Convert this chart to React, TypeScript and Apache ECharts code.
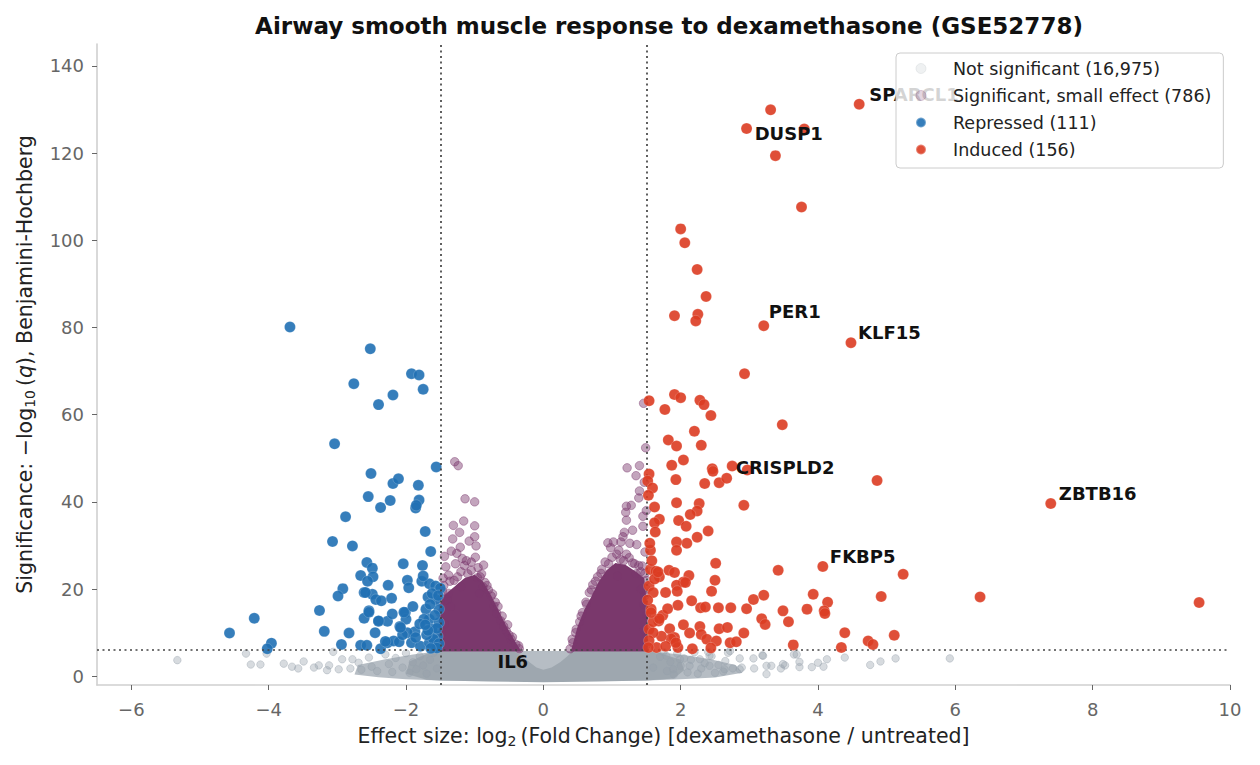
import React, { useEffect, useRef } from "react";
import * as echarts from "echarts";

const FONT = "DejaVu Sans";

const TITLE = "Airway smooth muscle response to dexamethasone (GSE52778)";
const NAME_NS = "Not significant (16,975)";
const NAME_SM = "Significant, small effect (786)";
const NAME_REP = "Repressed (111)";
const NAME_IND = "Induced (156)";

const xTicks = [-6, -4, -2, 0, 2, 4, 6, 8, 10];
const yTicks = [0, 20, 40, 60, 80, 100, 120, 140];
const FC_CUT = 1.5;
const SIG_CUT = 6;

// Repressed genes: [log2FC, -log10 q]
const repressed: [number, number][] = [
  [-3.69, 80.1], [-2.52, 75.1], [-1.92, 69.4], [-1.81, 69.1], [-2.76, 67.1], [-1.75, 65.8],
  [-2.19, 64.5], [-2.40, 62.3], [-3.04, 53.3], [-1.56, 48.0], [-2.51, 46.5], [-2.19, 44.2],
  [-2.11, 45.3], [-1.82, 43.8], [-2.55, 41.2], [-2.23, 40.3], [-1.81, 40.4], [-1.86, 38.6],
  [-1.85, 39.2], [-2.37, 38.7], [-2.88, 36.6], [-1.72, 33.2], [-3.07, 30.9], [-2.78, 29.9],
  [-1.64, 28.6], [-2.57, 26.1], [-2.49, 24.8], [-2.04, 25.8], [-1.76, 25.4], [-2.66, 23.1],
  [-2.48, 22.8], [-2.56, 21.8], [-2.26, 20.9], [-1.98, 22.0], [-1.96, 20.3], [-1.77, 21.8],
  [-1.66, 21.2], [-1.57, 20.7], [-1.50, 20.2], [-2.92, 20.1], [-2.99, 18.4], [-2.61, 19.2],
  [-2.49, 18.8], [-2.44, 17.6], [-2.36, 17.3], [-2.21, 17.9], [-1.68, 18.2], [-3.26, 15.1],
  [-2.54, 15.0], [-2.61, 13.3], [-2.40, 12.6], [-2.27, 12.6], [-2.20, 14.3], [-2.01, 14.6],
  [-2.00, 13.1], [-2.09, 11.4], [-1.87, 10.2], [-1.71, 15.4], [-1.66, 13.1], [-1.52, 15.4],
  [-4.21, 13.3], [-4.57, 9.9], [-3.19, 10.3], [-2.83, 9.9], [-3.96, 7.6], [-4.02, 6.3],
  [-2.94, 7.3], [-2.66, 7.1], [-2.57, 7.1], [-2.37, 6.3], [-2.27, 7.7], [-2.18, 8.1],
  [-2.10, 7.9], [-1.92, 7.7], [-1.79, 6.9], [-1.66, 7.7], [-1.57, 6.9], [-1.54, 9.2],
  [-1.62, 10.8], [-1.52, 12.3], [-1.57, 17.6], [-1.74, 13.1], [-1.98, 10.0], [-1.86, 8.9],
  [-1.60, 8.5], [-1.55, 11.0], [-1.65, 16.5], [-1.58, 14.0], [-1.70, 9.5], [-1.62, 19.0],
  [-1.53, 18.5], [-1.80, 12.0], [-2.30, 8.0], [-2.45, 10.0], [-2.05, 9.5], [-1.90, 16.0],
  [-1.75, 23.0], [-1.68, 10.5], [-2.59, 19.2], [-2.54, 14.7], [-2.40, 12.7], [-2.08, 11.2],
  [-2.03, 14.7], [-1.52, 7.5], [-1.55, 6.5], [-1.64, 6.4], [-1.72, 11.8],
];

// Induced genes
const induced: [number, number][] = [
  [4.60, 131.2], [3.31, 129.9], [3.80, 125.5], [2.96, 125.6], [3.38, 119.4], [3.76, 107.6],
  [2.00, 102.6], [2.06, 99.4], [2.24, 93.3], [2.37, 87.1], [1.91, 82.7], [2.25, 83.0],
  [2.22, 81.5], [3.21, 80.4], [4.48, 76.5], [2.93, 69.4], [1.54, 63.2], [1.91, 64.6],
  [2.00, 63.9], [2.28, 63.3], [2.34, 62.3], [1.77, 61.2], [2.44, 59.8], [3.48, 57.7],
  [2.20, 56.2], [1.82, 54.2], [1.94, 52.8], [2.30, 53.0], [2.04, 49.6], [1.87, 48.4],
  [1.54, 46.4], [1.52, 44.8], [1.59, 43.2], [1.93, 45.1], [2.35, 44.2], [2.46, 47.6],
  [2.47, 47.0], [2.75, 48.2], [2.56, 44.4], [2.67, 45.4], [2.97, 47.3], [2.92, 39.2],
  [4.86, 44.9], [7.39, 39.6], [1.62, 38.8], [1.94, 39.8], [2.27, 39.6], [2.24, 37.9],
  [2.14, 37.1], [1.97, 35.7], [2.08, 34.4], [1.69, 36.0], [1.62, 35.2], [1.63, 33.1],
  [2.40, 33.3], [2.24, 31.9], [2.09, 30.5], [1.94, 30.8], [1.94, 28.9], [1.56, 28.9],
  [2.51, 25.9], [3.42, 24.3], [4.07, 25.2], [5.24, 23.4], [1.56, 24.5], [1.64, 24.1],
  [1.83, 24.3], [1.91, 23.8], [1.69, 22.8], [2.12, 23.1], [2.04, 21.6], [2.50, 22.0],
  [1.94, 20.9], [2.45, 19.5], [3.06, 17.6], [3.21, 18.6], [3.93, 18.8], [4.92, 18.3],
  [6.36, 18.2], [9.55, 16.9], [4.14, 17.0], [1.54, 20.7], [1.60, 19.2], [1.78, 19.2],
  [2.16, 17.3], [1.96, 16.3], [2.29, 15.7], [2.36, 15.9], [2.55, 15.7], [2.73, 15.7],
  [2.96, 15.5], [3.49, 15.0], [3.84, 15.4], [4.09, 15.0], [4.10, 14.4], [3.57, 12.5],
  [3.18, 13.2], [3.23, 11.9], [1.57, 15.4], [1.74, 14.0], [1.81, 15.5], [1.68, 12.7],
  [2.04, 11.8], [1.84, 10.9], [1.54, 10.8], [2.28, 11.4], [2.56, 10.9], [2.68, 11.2],
  [2.92, 9.9], [2.13, 9.9], [2.30, 9.6], [1.91, 8.9], [1.86, 8.6], [2.38, 8.5],
  [2.52, 8.1], [2.72, 7.7], [2.81, 7.9], [3.64, 7.2], [4.39, 10.0], [4.34, 6.6],
  [4.73, 8.1], [4.80, 7.3], [5.11, 9.4], [1.65, 6.6], [1.78, 6.9], [1.96, 6.6],
  [2.17, 6.3], [1.72, 9.2], [1.60, 10.0], [1.93, 7.7], [1.53, 41.5], [1.55, 30.5],
  [1.58, 26.5], [1.52, 17.5], [1.54, 8.2], [1.53, 6.6], [1.60, 12.5], [1.62, 22.3],
  [1.95, 19.5], [2.07, 21.5], [1.69, 13.2], [1.57, 14.6], [2.44, 6.5], [1.67, 23.9],
];

// Significant but small effect: points around and on the edges of the dense cores
const smallEffect: [number, number][] = [
  [-1.29, 49.2], [-1.24, 48.3], [-1.14, 40.7], [-1.00, 40.0], [-1.31, 34.6], [-1.16, 35.6],
  [-1.00, 34.5], [-1.34, 28.7], [-1.21, 29.6], [-1.26, 28.2], [-0.98, 29.9], [-0.99, 27.3],
  [-1.42, 25.1], [-1.15, 25.4], [-0.95, 24.9], [-1.36, 21.8], [-0.96, 22.6], [-0.85, 21.5],
  [-1.10, 23.5], [-1.25, 22.8], [-0.80, 19.8], [-0.76, 18.4], [-0.72, 16.1], [-0.62, 12.7],
  [-0.54, 10.4], [-0.47, 8.5], [-0.40, 7.3], [-0.35, 6.3], [-1.47, 19.5], [-1.46, 22.5],
  [-1.40, 17.5], [-1.18, 27.0], [-1.05, 26.2], [-0.90, 23.5], [-0.68, 14.5], [-0.58, 11.5],
  [-0.50, 9.5], [-1.50, 14.5], [-1.48, 10.0], [-1.50, 7.5], [-1.20, 20.5], [-0.88, 20.5],
  [-0.70, 17.0], [-1.35, 16.0], [-1.32, 31.5], [-1.08, 31.0], [-1.44, 12.0], [-1.38, 19.0],
  [-1.50, 17.0], [-1.45, 20.8], [-1.30, 22.0], [-1.20, 24.0], [-1.05, 24.3], [-0.92, 22.8],
  [-0.82, 20.8], [-0.74, 18.9], [-0.66, 16.0], [-0.60, 13.8], [-0.52, 11.8], [-0.45, 9.0],
  [-0.36, 7.0], [-1.38, 23.2], [-1.12, 26.5], [-0.87, 25.5], [-1.28, 25.8], [-1.44, 27.5],
  [-1.00, 32.0], [-1.22, 33.0], [-0.93, 19.0],
  [1.46, 62.6], [1.49, 52.4], [1.22, 47.8], [1.40, 48.3], [1.40, 42.5], [1.39, 40.9],
  [1.21, 39.0], [1.28, 39.2], [1.20, 37.6], [1.45, 36.7], [1.21, 35.8], [1.45, 34.4],
  [0.94, 30.6], [1.02, 30.8], [1.13, 30.8], [1.26, 30.5], [1.36, 30.2], [1.07, 28.0],
  [1.21, 28.0], [1.12, 26.8], [1.39, 25.4], [1.44, 25.3], [0.79, 22.8], [0.67, 19.2],
  [0.57, 14.6], [0.48, 10.8], [0.43, 7.7], [0.39, 6.3], [0.85, 24.5], [0.95, 25.8],
  [1.30, 26.0], [1.48, 28.5], [1.50, 22.0], [1.48, 18.5], [1.50, 14.0], [1.47, 10.5],
  [1.50, 7.2], [0.62, 17.0], [0.72, 21.0], [0.53, 12.5], [1.35, 23.5], [1.47, 44.5],
  [1.35, 46.0], [1.18, 33.0], [1.42, 20.0], [1.46, 16.5],
  [0.42, 8.5], [0.47, 10.0], [0.55, 13.8], [0.63, 16.5], [0.70, 19.8], [0.76, 21.8],
  [0.84, 23.6], [0.90, 26.2], [1.00, 27.3], [1.10, 28.9], [1.17, 26.5], [1.25, 27.2],
  [1.33, 25.8], [1.42, 24.0], [1.48, 23.6], [1.50, 20.0], [0.98, 29.5], [1.16, 32.0],
  [1.30, 33.5], [1.50, 38.0], [1.08, 23.0],
];

// Not significant: scattered points outside the dense band
const notSignificant: [number, number][] = [
  [-5.33, 3.7], [-4.33, 5.2], [-4.26, 2.7], [-4.12, 2.7], [-4.03, 5.2], [-3.78, 2.9],
  [-3.66, 2.2], [-3.57, 1.8], [-3.49, 3.4], [-3.34, 2.0], [-3.27, 2.5], [-3.15, 1.4],
  [-3.12, 2.5], [-3.06, 5.6], [-2.98, 1.6], [-2.93, 3.9], [-2.81, 1.8], [-2.78, 3.9],
  [-2.69, 3.1], [-2.65, 1.5], [-2.54, 4.3], [-2.50, 2.2], [-2.42, 1.2], [-2.30, 5.0],
  [-2.25, 2.8], [-2.20, 1.0], [-2.15, 4.2], [-2.05, 2.0], [-2.00, 5.3], [-1.95, 0.8],
  [-1.90, 3.2], [-1.85, 1.6], [-1.80, 4.6], [-1.75, 2.5], [-1.70, 0.6], [-1.65, 3.8],
  [-1.60, 5.4], [-1.55, 1.8],
  [2.69, 5.4], [2.86, 4.1], [3.06, 4.1], [3.19, 4.8], [2.62, 1.1], [2.76, 1.8],
  [2.89, 2.0], [3.07, 1.8], [3.25, 0.5], [3.32, 2.4], [3.46, 1.8], [3.52, 2.5],
  [3.65, 5.0], [3.73, 3.3], [3.73, 2.1], [3.91, 2.1], [4.00, 3.1], [4.08, 2.2],
  [4.13, 3.9], [4.39, 4.3], [4.76, 2.6], [4.91, 3.4], [5.13, 4.1], [5.92, 4.1],
  [2.72, 5.8], [3.20, 4.7], [3.69, 5.0], [3.49, 2.8], [3.25, 2.4], [2.86, 1.6],
  [2.64, 1.6], [2.42, 2.4], [2.42, 4.7], [2.28, 3.9], [2.13, 2.4], [1.99, 3.9],
  [1.89, 1.6], [1.79, 4.7], [1.60, 2.0], [1.70, 4.5], [1.80, 1.2], [1.85, 3.3],
  [1.95, 5.2], [2.00, 2.4], [2.10, 0.9], [2.15, 3.8], [2.20, 5.5], [2.30, 1.8],
  [2.35, 3.0], [2.45, 4.6], [2.50, 0.8], [2.55, 2.6], [2.40, 5.6], [2.05, 4.1],
  [1.75, 5.6], [1.90, 0.4], [2.25, 0.6], [2.65, 3.5],
];

// Outlines of the densely over-plotted regions
const grayBand: [number, number][] = [
  [-2.75, 0.4], [-2.7, 2.6], [-2.3, 3.9], [-1.9, 5.0], [-1.5, 5.8], [1.5, 5.8], [2.0, 5.0],
  [2.4, 4.0], [2.8, 2.6], [2.9, 0.8], [2.5, -0.3], [2.0, -0.7], [1.5, -0.95], [-1.5, -0.95],
  [-2.0, -0.7], [-2.4, -0.2],
];
const grayCore: [number, number][] = [
  [-1.7, -0.8], [-2.0, 0.6], [-1.95, 3.4], [-1.62, 5.7], [-0.42, 5.7], [-0.3, 4.5],
  [-0.2, 3.2], [-0.1, 2.0], [0.0, 1.5], [0.12, 2.0], [0.25, 3.3], [0.35, 4.6], [0.42, 5.7],
  [1.62, 5.7], [2.0, 3.8], [2.05, 1.4], [1.9, -0.5], [1.5, -0.95], [0.8, -1.2], [0.0, -1.35],
  [-0.8, -1.2], [-1.5, -0.95],
];
const purpleCoreLeft: [number, number][] = [
  [-1.52, 5.7], [-1.52, 16.0], [-1.45, 18.5], [-1.30, 20.5], [-1.15, 22.5], [-1.00, 23.3],
  [-0.88, 21.8], [-0.76, 18.5], [-0.65, 15.0], [-0.53, 11.2], [-0.41, 8.0], [-0.32, 5.7],
];
const purpleCoreRight: [number, number][] = [
  [0.40, 5.7], [0.50, 11.5], [0.60, 15.4], [0.70, 18.3], [0.80, 21.5], [0.92, 24.3],
  [1.05, 26.0], [1.20, 25.5], [1.35, 24.0], [1.47, 22.5], [1.52, 15.0], [1.52, 5.7],
];

// Annotated genes
const geneNames = ["SPARCL1", "DUSP1", "PER1", "KLF15", "CRISPLD2", "ZBTB16", "FKBP5", "IL6"];
const geneX = [4.60, 2.96, 3.21, 4.48, 2.67, 7.39, 4.07, -0.80];
const geneY = [131.2, 125.6, 80.4, 76.5, 45.4, 39.6, 25.2, 1.2];
const geneLabelOffsets: [number, number][] = [
  [10, -10], [8, 5], [5, -14], [7, -10], [9, -11], [8, -10], [7, -10], [9, -10],
];

const C_GRAY = "#97a1aa";
const C_GRAY_BAND = "#b6bdc4";
const C_GRAY_CORE = "#9ea7af";
const C_PURPLE = "#7a386c";
const C_BLUE = "#2070b4";
const C_RED = "#dc3c22";

const minus = (v: number) => (v < 0 ? "\u2212" + Math.abs(v) : String(v));

function polySeries(name: string, pts: [number, number][], fill: string, z: number) {
  return {
    type: "custom",
    name,
    z,
    silent: true,
    clip: true,
    data: [[0, 0]],
    renderItem: (_params: any, api: any) => ({
      type: "polygon",
      shape: { points: pts.map((p) => api.coord(p)) },
      style: { fill },
    }),
  };
}

export default function App() {
  const ref = useRef<HTMLDivElement>(null);
  useEffect(() => {
    if (!ref.current) return;
    const chart = echarts.init(ref.current, undefined, { renderer: "svg" });
    const nameRich = {
      a: { fontFamily: FONT, fontSize: 20.5, color: "#222" },
      i: { fontFamily: FONT, fontSize: 20.5, color: "#222", fontStyle: "italic" },
      s: { fontFamily: FONT, fontSize: 14, color: "#222", padding: [10, 0, 0, 0] },
    };
    const option: any = {
      animation: false,
      backgroundColor: "#ffffff",
      title: {
        text: TITLE,
        left: 664,
        top: 9,
        textAlign: "center",
        textStyle: { fontFamily: FONT, fontSize: 23, fontWeight: "bold", color: "#111" },
      },
      grid: { left: 97, right: 30, top: 44, bottom: 80, containLabel: false },
      xAxis: {
        type: "value",
        min: -6.5,
        max: 10,
        name: "{a|Effect size: log}{s|2}{a|\u2009(Fold\u2009Change) [dexamethasone / untreated]}",
        nameLocation: "middle",
        nameGap: 39,
        nameTextStyle: { rich: nameRich },
        axisLine: { show: true, onZero: false, lineStyle: { color: "#d0d0d0", width: 1.6 } },
        axisTick: { show: true, length: 5, customValues: xTicks, lineStyle: { color: "#666", width: 1 } },
        axisLabel: {
          customValues: xTicks,
          formatter: (v: number) => minus(v),
          fontFamily: FONT,
          fontSize: 18,
          color: "#666",
          margin: 15,
        },
        splitLine: { show: false },
      },
      yAxis: {
        type: "value",
        min: -2,
        max: 145,
        name: "{a|Significance: \u2212log}{s|10}{a|\u2009(}{i|q}{a|), Benjamini-Hochberg}",
        nameLocation: "middle",
        nameRotate: 90,
        nameGap: 60,
        nameTextStyle: { rich: nameRich },
        axisLine: { show: true, onZero: false, lineStyle: { color: "#d0d0d0", width: 1.6 } },
        axisTick: { show: true, length: 5, customValues: yTicks, lineStyle: { color: "#666", width: 1 } },
        axisLabel: {
          customValues: yTicks,
          fontFamily: FONT,
          fontSize: 18,
          color: "#666",
          margin: 13,
        },
        splitLine: { show: false },
      },
      legend: {
        orient: "vertical",
        left: 896,
        top: 53,
        z: 20,
        itemWidth: 54,
        itemHeight: 10,
        itemGap: 6,
        padding: [5, 12, 8, 19],
        backgroundColor: "rgba(255,255,255,0.82)",
        borderColor: "#cccccc",
        borderWidth: 1,
        borderRadius: 4,
        textStyle: { fontFamily: FONT, fontSize: 17.5, color: "#222", lineHeight: 21 },
        data: [
          { name: NAME_NS, icon: "circle", itemStyle: { color: "rgba(151,161,170,0.4)", borderColor: "rgba(151,161,170,0.45)", borderWidth: 1 } },
          { name: NAME_SM, icon: "circle", itemStyle: { color: "rgba(122,56,108,0.45)", borderColor: "rgba(122,56,108,0.55)", borderWidth: 1 } },
          { name: NAME_REP, icon: "circle", itemStyle: { color: C_BLUE, opacity: 0.9 } },
          { name: NAME_IND, icon: "circle", itemStyle: { color: C_RED, opacity: 0.9 } },
        ],
      },
      series: [
        polySeries("nsBand", grayBand, C_GRAY_BAND, 1),
        polySeries("nsCore", grayCore, C_GRAY_CORE, 1),
        {
          type: "scatter",
          name: NAME_NS,
          z: 1,
          symbolSize: 7.5,
          data: notSignificant,
          itemStyle: { color: C_GRAY, opacity: 0.38, borderColor: C_GRAY, borderWidth: 1 },
          silent: true,
        },
        polySeries("smCoreL", purpleCoreLeft, C_PURPLE, 2),
        polySeries("smCoreR", purpleCoreRight, C_PURPLE, 2),
        {
          type: "scatter",
          name: NAME_SM,
          z: 2,
          symbolSize: 8.5,
          data: smallEffect,
          itemStyle: { color: C_PURPLE, opacity: 0.45, borderColor: C_PURPLE, borderWidth: 1 },
          silent: true,
        },
        {
          type: "line",
          name: "thresholds",
          z: 3,
          data: [],
          silent: true,
          markLine: {
            silent: true,
            symbol: "none",
            label: { show: false },
            lineStyle: { color: "#444", width: 1.7, type: [2, 3.5] },
            data: [{ xAxis: -FC_CUT }, { xAxis: FC_CUT }, { yAxis: SIG_CUT }],
          },
        },
        {
          type: "scatter",
          name: NAME_REP,
          z: 4,
          symbolSize: 11,
          data: repressed,
          itemStyle: { color: C_BLUE, opacity: 0.9, borderColor: "rgba(255,255,255,0.35)", borderWidth: 0.6 },
          silent: true,
        },
        {
          type: "scatter",
          name: NAME_IND,
          z: 5,
          symbolSize: 11,
          data: induced,
          itemStyle: { color: C_RED, opacity: 0.9, borderColor: "rgba(255,255,255,0.35)", borderWidth: 0.6 },
          silent: true,
        },
        {
          type: "scatter",
          name: "geneLabels",
          z: 6,
          symbolSize: 0.1,
          silent: true,
          itemStyle: { color: "rgba(0,0,0,0)" },
          label: {
            show: true,
            position: "right",
            distance: 0,
            fontFamily: FONT,
            fontSize: 18,
            fontWeight: "bold",
            color: "#111111",
            opacity: 1,
            textBorderWidth: 0,
          },
          data: geneNames.map((g, i) => ({
            value: [geneX[i], geneY[i]],
            label: { formatter: g, offset: geneLabelOffsets[i] },
          })),
        },
      ],
    };
    chart.setOption(option);
    return () => chart.dispose();
  }, []);
  return (
    <div
      ref={ref}
      style={{ position: "fixed", left: 0, top: 0, width: 1260, height: 765, background: "#fff" }}
    />
  );
}
